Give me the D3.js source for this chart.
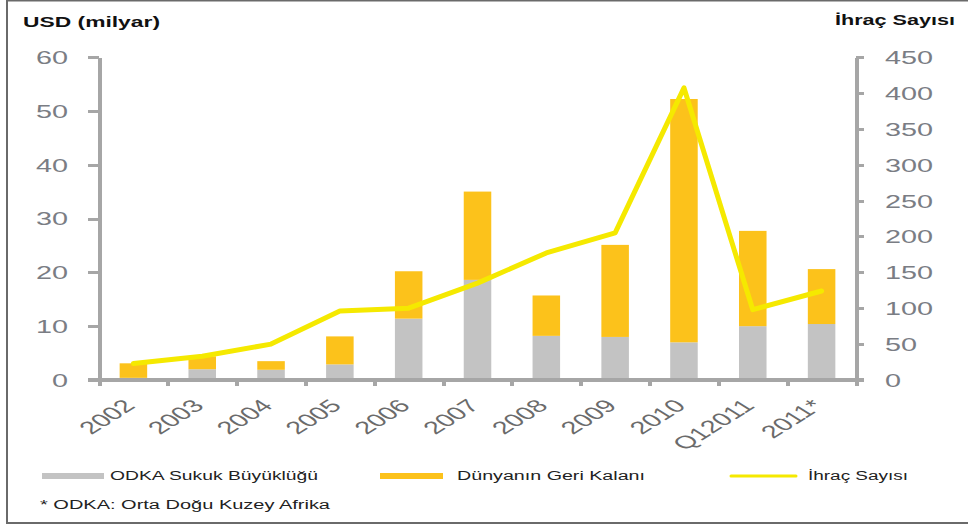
<!DOCTYPE html>
<html>
<head>
<meta charset="utf-8">
<script src="https://cdn.jsdelivr.net/npm/d3@7"></script>
<style>
  body { margin: 0; background: #fff; }
  text { font-family: "Liberation Sans", Arial, sans-serif; }
</style>
</head>
<body>
<svg id="chart" width="968" height="528"></svg>
<script>
// data
const categories = ["2002", "2003", "2004", "2005", "2006", "2007", "2008", "2009", "2010", "Q12011", "2011*"];
const odkaValues = [0.4, 2.0, 1.9, 2.9, 11.4, 18.6, 8.2, 8.0, 7.0, 10.0, 10.4];
const restValues = [2.7, 2.4, 1.6, 5.2, 8.8, 16.4, 7.5, 17.1, 45.2, 17.7, 10.2];
const issueCounts = [23, 33, 50, 96, 100, 135, 177, 205, 407, 98, 124];
const leftTicks = [0, 10, 20, 30, 40, 50, 60];
const rightTicks = [0, 50, 100, 150, 200, 250, 300, 350, 400, 450];

const grey = "#c3c3c3", orange = "#fcc21b", yellow = "#f5e900", axisCol = "#a6a6a6";
const SX = 1.6;   // the picture is stretched sideways, so the text is too

let svg = d3.select("#chart");

// frame
svg.append("path")
    .attr("d", "M7,0.5 H968 M7,0 V523 H968")
    .attr("fill", "none")
    .attr("stroke", "#6a6a6a")
    .attr("stroke-width", 2);

let x = d3.scaleBand().domain(categories).range([99, 856]).paddingInner(0.6).paddingOuter(0.3);
let yL = d3.scaleLinear().domain([0, 60]).range([380, 57]);
let yR = d3.scaleLinear().domain([0, 450]).range([380, 57]);
let xEdge = d3.scaleLinear().domain([0, categories.length]).range([99, 856]);

// stacked bars
let rows = categories.map((c, i) => ({cat: c, odka: odkaValues[i], rest: restValues[i]}));
let stack = d3.stack().keys(["odka", "rest"])(rows);
let colors = {odka: grey, rest: orange};

svg.append("g").selectAll("g")
    .data(stack)
    .join("g")
    .attr("fill", d => colors[d.key])
    .selectAll("rect")
    .data(d => d)
    .join("rect")
    .attr("x", d => x(d.data.cat))
    .attr("width", x.bandwidth())
    .attr("y", d => yL(d[1]))
    .attr("height", d => yL(d[0]) - yL(d[1]));

// axes
function styleAxis(g) {
    g.select(".domain").attr("stroke", axisCol).attr("stroke-width", 4);
    g.selectAll(".tick line").attr("stroke", axisCol).attr("stroke-width", 3);
}

let gBottom = svg.append("g")
    .attr("transform", "translate(0,380)")
    .call(d3.axisBottom(xEdge).tickValues(d3.range(categories.length + 1)).tickFormat("").tickSize(6).tickSizeOuter(0));
styleAxis(gBottom);
gBottom.selectAll(".tick line").attr("stroke-width", 4);
gBottom.select(".domain").attr("d", "M88,0H864");

let gLeft = svg.append("g")
    .attr("transform", "translate(99,0)")
    .call(d3.axisLeft(yL).tickValues(leftTicks).tickSize(11).tickSizeOuter(0));
styleAxis(gLeft);
gLeft.selectAll("text")
    .attr("x", 0).attr("dy", "0.36em")
    .attr("transform", `translate(-31,0) scale(${SX},1)`)
    .attr("font-size", 18).attr("fill", "#7a7d84")
    .attr("text-anchor", "end");

let gRight = svg.append("g")
    .attr("transform", "translate(856,0)")
    .call(d3.axisRight(yR).tickValues(rightTicks).tickSize(8).tickSizeOuter(0));
styleAxis(gRight);
gRight.selectAll("text")
    .attr("x", 0).attr("dy", "0.36em")
    .attr("transform", `translate(29,0) scale(${SX},1)`)
    .attr("font-size", 18).attr("fill", "#7a7d84")
    .attr("text-anchor", "start");
svg.selectAll(".domain, .tick line").attr("shape-rendering", "crispEdges");
svg.selectAll("g").attr("font-family", null);

// rotated category labels
svg.append("g").selectAll("text")
    .data(categories)
    .join("text")
    .attr("transform", d => `translate(${x(d) + x.bandwidth() / 2 + 3},407) scale(${SX},1) rotate(-45)`)
    .attr("text-anchor", "end")
    .attr("font-size", 18)
    .attr("fill", "#6b6b6b")
    .text(d => d);

// issue count line
let line = d3.line()
    .x((d, i) => x(categories[i]) + x.bandwidth() / 2)
    .y(d => yR(d));

svg.append("path")
    .datum(issueCounts)
    .attr("d", line)
    .attr("fill", "none")
    .attr("stroke", yellow)
    .attr("stroke-width", 5)
    .attr("stroke-linejoin", "round")
    .attr("stroke-linecap", "round");

// titles
svg.append("text")
    .attr("x", 23).attr("y", 27)
    .attr("font-family", "DejaVu Sans").attr("font-weight", "bold").attr("font-size", 14)
    .attr("textLength", 137).attr("lengthAdjust", "spacingAndGlyphs")
    .attr("fill", "#111")
    .text("USD (milyar)");

svg.append("text")
    .attr("x", 835).attr("y", 25)
    .attr("font-family", "DejaVu Sans").attr("font-weight", "bold").attr("font-size", 14)
    .attr("textLength", 120).attr("lengthAdjust", "spacingAndGlyphs")
    .attr("fill", "#111")
    .text("İhraç Sayısı");

// legend
let legend = svg.append("g").attr("font-size", 12.5).attr("fill", "#222");
legend.append("rect").attr("x", 42).attr("y", 473).attr("width", 62).attr("height", 6).attr("fill", grey);
legend.append("text").attr("x", 110).attr("y", 479.5)
    .attr("font-family", "Lato").attr("textLength", 208).attr("lengthAdjust", "spacingAndGlyphs")
    .text("ODKA Sukuk Büyüklüğü");
legend.append("rect").attr("x", 380).attr("y", 473).attr("width", 63).attr("height", 6).attr("fill", orange);
legend.append("text").attr("x", 457).attr("y", 479.5)
    .attr("font-family", "Lato").attr("textLength", 188).attr("lengthAdjust", "spacingAndGlyphs")
    .text("Dünyanın Geri Kalanı");
legend.append("line").attr("x1", 731).attr("x2", 796).attr("y1", 476).attr("y2", 476)
    .attr("stroke", yellow).attr("stroke-width", 3).attr("stroke-linecap", "round");
legend.append("text").attr("x", 808).attr("y", 479.5)
    .attr("font-family", "Lato").attr("textLength", 100).attr("lengthAdjust", "spacingAndGlyphs")
    .text("İhraç Sayısı");
legend.append("text").attr("x", 40).attr("y", 508.5)
    .attr("font-family", "Lato").attr("textLength", 290).attr("lengthAdjust", "spacingAndGlyphs")
    .text("* ODKA: Orta Doğu Kuzey Afrika");
</script>
</body>
</html>
